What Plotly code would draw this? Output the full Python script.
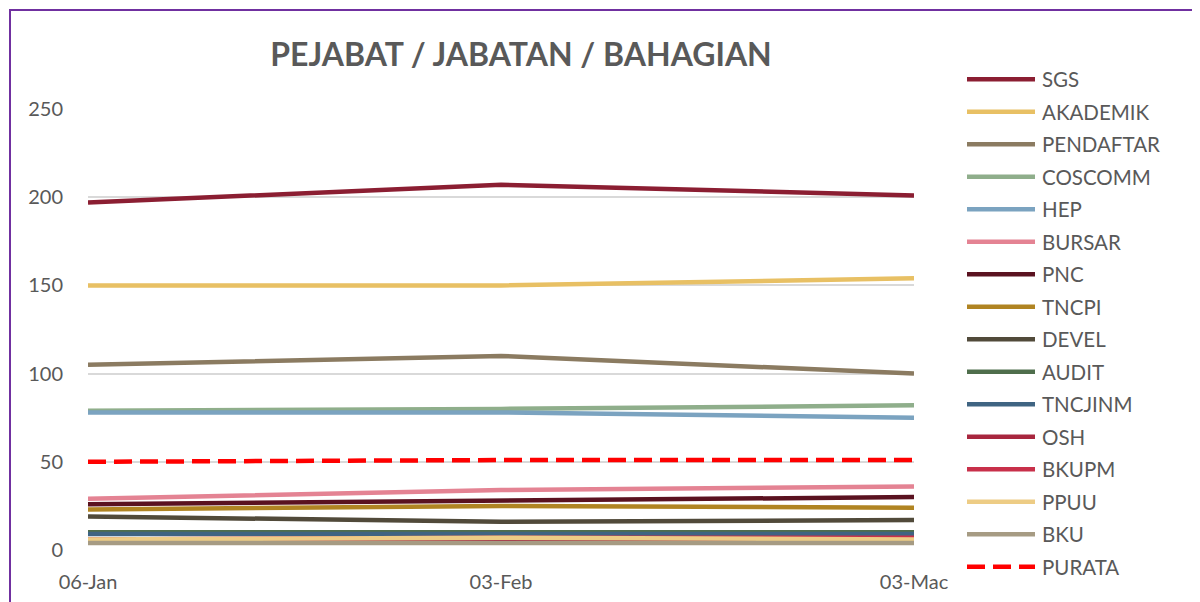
import plotly.graph_objects as go

# data
dates = ["06-Jan", "03-Feb", "03-Mac"]

sgs = [197, 207, 201]
akademik = [150, 150, 154]
pendaftar = [105, 110, 100]
coscomm = [79, 80, 82]
hep = [78, 78, 75]
bursar = [29, 34, 36]
pnc = [26, 28, 30]
tncpi = [23, 25, 24]
devel = [19, 16, 17]
audit = [10, 10, 10]
tncjinm = [9, 9, 9]
osh = [5, 5, 5]
bkupm = [6, 7, 7]
ppuu = [6, 7, 6]
bku = [4, 4, 4]
purata = [50, 51, 51]

series = [
    ("SGS", sgs, "#8B1E32"),
    ("AKADEMIK", akademik, "#E8C064"),
    ("PENDAFTAR", pendaftar, "#8B7B61"),
    ("COSCOMM", coscomm, "#8FAE8B"),
    ("HEP", hep, "#7BA3C0"),
    ("BURSAR", bursar, "#E48393"),
    ("PNC", pnc, "#5A1220"),
    ("TNCPI", tncpi, "#B08422"),
    ("DEVEL", devel, "#514A3A"),
    ("AUDIT", audit, "#4F6E4C"),
    ("TNCJINM", tncjinm, "#3F6482"),
    ("OSH", osh, "#A8263E"),
    ("BKUPM", bkupm, "#C8304A"),
    ("PPUU", ppuu, "#EDCC85"),
    ("BKU", bku, "#A69B83"),
    ("PURATA", purata, "#FF0000"),
]

W, H = 1200, 602
OFF = 8  # the page body adds an 8px margin, so target positions are pulled back by it
L, R, T, B = 88 - OFF, 914 - OFF, 109 - OFF, 550 - OFF
TEXT = "#595959"
FONT = "Lato"


def px_x(x):
    return (x - OFF - L) / (R - L)


def px_y(y):
    return (B - (y - OFF)) / (B - T)


fig = go.Figure()

for name, vals, color in series:
    dash = "18px,8px" if name == "PURATA" else "solid"
    fig.add_trace(
        go.Scatter(
            x=dates, y=vals, mode="lines", name=name,
            line=dict(color=color, width=4.5, dash=dash),
            cliponaxis=False, showlegend=False,
        )
    )

# legend drawn by hand so the line samples are as long as in the original
shapes = []
annotations = []
for i, (name, vals, color) in enumerate(series):
    y = 79.3 + i * 32.5
    shapes.append(dict(
        type="line", xref="paper", yref="paper",
        x0=px_x(967), x1=px_x(1035), y0=px_y(y), y1=px_y(y),
        line=dict(color=color, width=4.5, dash="18px,8px" if name == "PURATA" else "solid"),
    ))
    annotations.append(dict(
        text=name, xref="paper", yref="paper", x=px_x(1040), y=px_y(y),
        xanchor="left", yanchor="middle", showarrow=False,
        font=dict(family=FONT, size=20.5, color=TEXT),
    ))

# purple frame around the chart
shapes.append(dict(
    type="rect", xref="paper", yref="paper",
    x0=px_x(10), x1=px_x(1215), y0=px_y(620), y1=px_y(10),
    line=dict(color="#7030A0", width=2), layer="below",
))

fig.update_layout(
    width=W, height=H,
    margin=dict(l=L, r=W - R, t=T, b=H - B),
    paper_bgcolor="white", plot_bgcolor="white",
    title=dict(
        text="<b>PEJABAT / JABATAN / BAHAGIAN</b>",
        x=(521 - OFF) / W, xanchor="center", y=1 - (55 - OFF) / H, yanchor="middle",
        font=dict(family=FONT, size=32, color=TEXT),
    ),
    font=dict(family=FONT, size=20, color=TEXT),
    showlegend=False,
    shapes=shapes,
    annotations=annotations,
    xaxis=dict(
        range=[0, 2], showgrid=False, zeroline=False, showline=False,
        ticks="", ticklabelstandoff=18, tickfont=dict(size=20, color=TEXT),
    ),
    yaxis=dict(
        range=[0, 250], dtick=50, showgrid=True, gridcolor="#D9D9D9", gridwidth=1.5,
        zeroline=False, showline=False, ticks="", ticklabelstandoff=24,
        tickfont=dict(size=20, color=TEXT),
    ),
)

fig.write_html("out.html")
